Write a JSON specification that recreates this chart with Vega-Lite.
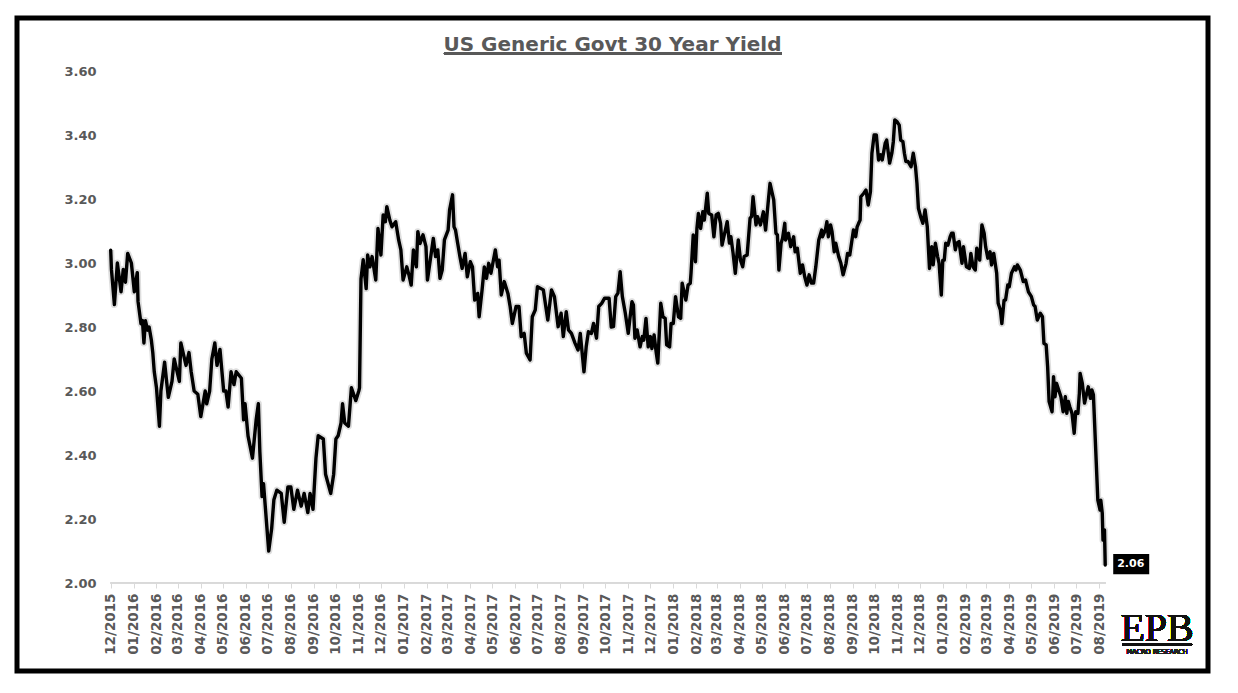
{
  "$schema": "https://vega.github.io/schema/vega-lite/v6.json",
  "width": 1191,
  "height": 653,
  "autosize": {"type": "none"},
  "padding": {"left": 17, "top": 18, "right": 30, "bottom": 22},
  "background": "#ffffff",
  "config": {
    "view": {"stroke": "#000000", "strokeWidth": 5},
    "axis": {"grid": false, "title": null}
  },
  "title": {
    "text": "US Generic Govt 30 Year Yield",
    "font": "DejaVu Sans",
    "fontSize": 20,
    "fontWeight": "bold",
    "color": "#595959",
    "anchor": "middle",
    "offset": -37
  },
  "data": {
    "values": [
      {"date": "2015-12-01", "yield": 3.04}, {"date": "2015-12-02", "yield": 2.98}, {"date": "2015-12-06", "yield": 2.87}, {"date": "2015-12-10", "yield": 3.00}, {"date": "2015-12-15", "yield": 2.91}, {"date": "2015-12-18", "yield": 2.98}, {"date": "2015-12-21", "yield": 2.94}, {"date": "2015-12-24", "yield": 3.03}, {"date": "2015-12-29", "yield": 3.00},
      {"date": "2016-01-02", "yield": 2.91}, {"date": "2016-01-06", "yield": 2.97}, {"date": "2016-01-07", "yield": 2.88}, {"date": "2016-01-11", "yield": 2.81}, {"date": "2016-01-13", "yield": 2.82}, {"date": "2016-01-15", "yield": 2.75}, {"date": "2016-01-17", "yield": 2.82}, {"date": "2016-01-20", "yield": 2.79}, {"date": "2016-01-22", "yield": 2.80}, {"date": "2016-01-25", "yield": 2.76}, {"date": "2016-01-27", "yield": 2.72}, {"date": "2016-01-29", "yield": 2.66},
      {"date": "2016-02-01", "yield": 2.61}, {"date": "2016-02-05", "yield": 2.49}, {"date": "2016-02-07", "yield": 2.60}, {"date": "2016-02-12", "yield": 2.69}, {"date": "2016-02-17", "yield": 2.58}, {"date": "2016-02-22", "yield": 2.63}, {"date": "2016-02-25", "yield": 2.70},
      {"date": "2016-03-03", "yield": 2.63}, {"date": "2016-03-05", "yield": 2.75}, {"date": "2016-03-12", "yield": 2.68}, {"date": "2016-03-16", "yield": 2.72}, {"date": "2016-03-19", "yield": 2.66}, {"date": "2016-03-23", "yield": 2.60}, {"date": "2016-03-28", "yield": 2.59},
      {"date": "2016-04-01", "yield": 2.52}, {"date": "2016-04-07", "yield": 2.60}, {"date": "2016-04-09", "yield": 2.56}, {"date": "2016-04-13", "yield": 2.60}, {"date": "2016-04-16", "yield": 2.70}, {"date": "2016-04-20", "yield": 2.75}, {"date": "2016-04-23", "yield": 2.68}, {"date": "2016-04-27", "yield": 2.73},
      {"date": "2016-05-02", "yield": 2.60}, {"date": "2016-05-05", "yield": 2.60}, {"date": "2016-05-08", "yield": 2.55}, {"date": "2016-05-12", "yield": 2.66}, {"date": "2016-05-16", "yield": 2.62}, {"date": "2016-05-19", "yield": 2.66}, {"date": "2016-05-26", "yield": 2.64}, {"date": "2016-05-29", "yield": 2.51}, {"date": "2016-05-31", "yield": 2.56},
      {"date": "2016-06-04", "yield": 2.46}, {"date": "2016-06-10", "yield": 2.39}, {"date": "2016-06-15", "yield": 2.51}, {"date": "2016-06-18", "yield": 2.56}, {"date": "2016-06-20", "yield": 2.41}, {"date": "2016-06-23", "yield": 2.27}, {"date": "2016-06-25", "yield": 2.31}, {"date": "2016-06-28", "yield": 2.22},
      {"date": "2016-07-02", "yield": 2.10}, {"date": "2016-07-06", "yield": 2.17}, {"date": "2016-07-09", "yield": 2.26}, {"date": "2016-07-13", "yield": 2.29}, {"date": "2016-07-19", "yield": 2.28}, {"date": "2016-07-23", "yield": 2.19}, {"date": "2016-07-28", "yield": 2.30},
      {"date": "2016-08-01", "yield": 2.30}, {"date": "2016-08-05", "yield": 2.23}, {"date": "2016-08-10", "yield": 2.29}, {"date": "2016-08-15", "yield": 2.24}, {"date": "2016-08-19", "yield": 2.28}, {"date": "2016-08-24", "yield": 2.22}, {"date": "2016-08-27", "yield": 2.28}, {"date": "2016-08-31", "yield": 2.23},
      {"date": "2016-09-04", "yield": 2.39}, {"date": "2016-09-07", "yield": 2.46}, {"date": "2016-09-14", "yield": 2.45}, {"date": "2016-09-17", "yield": 2.34}, {"date": "2016-09-24", "yield": 2.28}, {"date": "2016-09-28", "yield": 2.34},
      {"date": "2016-10-01", "yield": 2.45}, {"date": "2016-10-04", "yield": 2.46}, {"date": "2016-10-08", "yield": 2.50}, {"date": "2016-10-10", "yield": 2.56}, {"date": "2016-10-13", "yield": 2.50}, {"date": "2016-10-18", "yield": 2.49}, {"date": "2016-10-22", "yield": 2.61}, {"date": "2016-10-28", "yield": 2.57},
      {"date": "2016-11-01", "yield": 2.60}, {"date": "2016-11-02", "yield": 2.61}, {"date": "2016-11-04", "yield": 2.95}, {"date": "2016-11-07", "yield": 3.01}, {"date": "2016-11-11", "yield": 2.92}, {"date": "2016-11-13", "yield": 3.025}, {"date": "2016-11-16", "yield": 2.988}, {"date": "2016-11-19", "yield": 3.02}, {"date": "2016-11-24", "yield": 2.947}, {"date": "2016-11-27", "yield": 3.108},
      {"date": "2016-12-01", "yield": 3.025}, {"date": "2016-12-04", "yield": 3.15}, {"date": "2016-12-07", "yield": 3.129}, {"date": "2016-12-09", "yield": 3.176}, {"date": "2016-12-13", "yield": 3.134}, {"date": "2016-12-16", "yield": 3.113}, {"date": "2016-12-21", "yield": 3.129}, {"date": "2016-12-25", "yield": 3.072}, {"date": "2016-12-28", "yield": 3.041}, {"date": "2016-12-31", "yield": 2.947},
      {"date": "2017-01-05", "yield": 2.988}, {"date": "2017-01-08", "yield": 2.962}, {"date": "2017-01-11", "yield": 2.931}, {"date": "2017-01-14", "yield": 3.041}, {"date": "2017-01-18", "yield": 2.988}, {"date": "2017-01-20", "yield": 3.098}, {"date": "2017-01-23", "yield": 3.061}, {"date": "2017-01-27", "yield": 3.088}, {"date": "2017-01-31", "yield": 3.051},
      {"date": "2017-02-02", "yield": 2.947}, {"date": "2017-02-10", "yield": 3.077}, {"date": "2017-02-13", "yield": 3.02}, {"date": "2017-02-16", "yield": 3.041}, {"date": "2017-02-19", "yield": 2.952}, {"date": "2017-02-22", "yield": 2.978}, {"date": "2017-02-25", "yield": 3.072},
      {"date": "2017-03-02", "yield": 3.103}, {"date": "2017-03-04", "yield": 3.166}, {"date": "2017-03-08", "yield": 3.213}, {"date": "2017-03-10", "yield": 3.113}, {"date": "2017-03-12", "yield": 3.103}, {"date": "2017-03-15", "yield": 3.061}, {"date": "2017-03-18", "yield": 3.02}, {"date": "2017-03-21", "yield": 2.983}, {"date": "2017-03-25", "yield": 3.03}, {"date": "2017-03-28", "yield": 2.957},
      {"date": "2017-04-01", "yield": 3.004}, {"date": "2017-04-04", "yield": 2.988}, {"date": "2017-04-07", "yield": 2.884}, {"date": "2017-04-11", "yield": 2.905}, {"date": "2017-04-13", "yield": 2.832}, {"date": "2017-04-17", "yield": 2.916}, {"date": "2017-04-20", "yield": 2.988}, {"date": "2017-04-23", "yield": 2.952}, {"date": "2017-04-26", "yield": 2.999}, {"date": "2017-04-29", "yield": 2.968},
      {"date": "2017-05-05", "yield": 3.041}, {"date": "2017-05-08", "yield": 2.988}, {"date": "2017-05-10", "yield": 3.009}, {"date": "2017-05-13", "yield": 2.90}, {"date": "2017-05-17", "yield": 2.942}, {"date": "2017-05-22", "yield": 2.905}, {"date": "2017-05-25", "yield": 2.864}, {"date": "2017-05-28", "yield": 2.811},
      {"date": "2017-06-02", "yield": 2.864}, {"date": "2017-06-06", "yield": 2.864}, {"date": "2017-06-09", "yield": 2.77}, {"date": "2017-06-13", "yield": 2.78}, {"date": "2017-06-16", "yield": 2.718}, {"date": "2017-06-21", "yield": 2.697}, {"date": "2017-06-24", "yield": 2.832}, {"date": "2017-06-28", "yield": 2.853},
      {"date": "2017-07-01", "yield": 2.926}, {"date": "2017-07-09", "yield": 2.916}, {"date": "2017-07-15", "yield": 2.822}, {"date": "2017-07-20", "yield": 2.916}, {"date": "2017-07-24", "yield": 2.895}, {"date": "2017-07-29", "yield": 2.801},
      {"date": "2017-08-02", "yield": 2.843}, {"date": "2017-08-05", "yield": 2.77}, {"date": "2017-08-09", "yield": 2.848}, {"date": "2017-08-12", "yield": 2.791}, {"date": "2017-08-16", "yield": 2.78}, {"date": "2017-08-21", "yield": 2.749}, {"date": "2017-08-25", "yield": 2.728}, {"date": "2017-08-28", "yield": 2.78},
      {"date": "2017-09-02", "yield": 2.66}, {"date": "2017-09-05", "yield": 2.738}, {"date": "2017-09-08", "yield": 2.785}, {"date": "2017-09-12", "yield": 2.78}, {"date": "2017-09-15", "yield": 2.811}, {"date": "2017-09-19", "yield": 2.765}, {"date": "2017-09-22", "yield": 2.864}, {"date": "2017-09-26", "yield": 2.874}, {"date": "2017-09-30", "yield": 2.89},
      {"date": "2017-10-06", "yield": 2.89}, {"date": "2017-10-09", "yield": 2.80}, {"date": "2017-10-12", "yield": 2.801}, {"date": "2017-10-15", "yield": 2.895}, {"date": "2017-10-18", "yield": 2.906}, {"date": "2017-10-21", "yield": 2.973}, {"date": "2017-10-24", "yield": 2.895}, {"date": "2017-10-28", "yield": 2.843},
      {"date": "2017-11-01", "yield": 2.78}, {"date": "2017-11-03", "yield": 2.822}, {"date": "2017-11-06", "yield": 2.879}, {"date": "2017-11-08", "yield": 2.869}, {"date": "2017-11-10", "yield": 2.765}, {"date": "2017-11-13", "yield": 2.791}, {"date": "2017-11-17", "yield": 2.738}, {"date": "2017-11-20", "yield": 2.77}, {"date": "2017-11-22", "yield": 2.759}, {"date": "2017-11-25", "yield": 2.827}, {"date": "2017-11-28", "yield": 2.738},
      {"date": "2017-12-01", "yield": 2.77}, {"date": "2017-12-03", "yield": 2.733}, {"date": "2017-12-06", "yield": 2.775}, {"date": "2017-12-09", "yield": 2.718}, {"date": "2017-12-11", "yield": 2.687}, {"date": "2017-12-13", "yield": 2.78}, {"date": "2017-12-15", "yield": 2.874}, {"date": "2017-12-18", "yield": 2.832}, {"date": "2017-12-21", "yield": 2.827}, {"date": "2017-12-23", "yield": 2.744}, {"date": "2017-12-27", "yield": 2.738}, {"date": "2017-12-29", "yield": 2.811},
      {"date": "2018-01-01", "yield": 2.811}, {"date": "2018-01-04", "yield": 2.895}, {"date": "2018-01-08", "yield": 2.832}, {"date": "2018-01-11", "yield": 2.827}, {"date": "2018-01-13", "yield": 2.937}, {"date": "2018-01-18", "yield": 2.884}, {"date": "2018-01-21", "yield": 2.931}, {"date": "2018-01-24", "yield": 2.937}, {"date": "2018-01-25", "yield": 2.968}, {"date": "2018-01-28", "yield": 3.088}, {"date": "2018-01-31", "yield": 3.004},
      {"date": "2018-02-02", "yield": 3.108}, {"date": "2018-02-04", "yield": 3.155}, {"date": "2018-02-07", "yield": 3.108}, {"date": "2018-02-10", "yield": 3.16}, {"date": "2018-02-12", "yield": 3.134}, {"date": "2018-02-16", "yield": 3.218}, {"date": "2018-02-18", "yield": 3.155}, {"date": "2018-02-22", "yield": 3.15}, {"date": "2018-02-25", "yield": 3.082}, {"date": "2018-02-28", "yield": 3.15},
      {"date": "2018-03-03", "yield": 3.155}, {"date": "2018-03-06", "yield": 3.124}, {"date": "2018-03-08", "yield": 3.056}, {"date": "2018-03-15", "yield": 3.129}, {"date": "2018-03-18", "yield": 3.062}, {"date": "2018-03-20", "yield": 3.082}, {"date": "2018-03-23", "yield": 3.03}, {"date": "2018-03-26", "yield": 2.968}, {"date": "2018-03-28", "yield": 3.02}, {"date": "2018-03-30", "yield": 3.072},
      {"date": "2018-04-02", "yield": 3.009}, {"date": "2018-04-05", "yield": 2.988}, {"date": "2018-04-07", "yield": 3.02}, {"date": "2018-04-11", "yield": 3.025}, {"date": "2018-04-15", "yield": 3.14}, {"date": "2018-04-17", "yield": 3.145}, {"date": "2018-04-19", "yield": 3.207}, {"date": "2018-04-23", "yield": 3.119}, {"date": "2018-04-25", "yield": 3.145}, {"date": "2018-04-29", "yield": 3.119},
      {"date": "2018-05-03", "yield": 3.16}, {"date": "2018-05-06", "yield": 3.103}, {"date": "2018-05-10", "yield": 3.202}, {"date": "2018-05-12", "yield": 3.249}, {"date": "2018-05-17", "yield": 3.197}, {"date": "2018-05-20", "yield": 3.093}, {"date": "2018-05-22", "yield": 3.088}, {"date": "2018-05-24", "yield": 2.978}, {"date": "2018-05-27", "yield": 3.062}, {"date": "2018-05-29", "yield": 3.077},
      {"date": "2018-06-01", "yield": 3.124}, {"date": "2018-06-02", "yield": 3.072}, {"date": "2018-06-06", "yield": 3.093}, {"date": "2018-06-09", "yield": 3.051}, {"date": "2018-06-13", "yield": 3.082}, {"date": "2018-06-15", "yield": 3.035}, {"date": "2018-06-18", "yield": 3.046}, {"date": "2018-06-22", "yield": 2.968}, {"date": "2018-06-25", "yield": 2.994}, {"date": "2018-06-28", "yield": 2.957},
      {"date": "2018-07-01", "yield": 2.931}, {"date": "2018-07-04", "yield": 2.963}, {"date": "2018-07-07", "yield": 2.937}, {"date": "2018-07-10", "yield": 2.937}, {"date": "2018-07-13", "yield": 2.988}, {"date": "2018-07-17", "yield": 3.072}, {"date": "2018-07-21", "yield": 3.103}, {"date": "2018-07-22", "yield": 3.082}, {"date": "2018-07-26", "yield": 3.103}, {"date": "2018-07-28", "yield": 3.129}, {"date": "2018-07-30", "yield": 3.082},
      {"date": "2018-08-02", "yield": 3.119}, {"date": "2018-08-04", "yield": 3.098}, {"date": "2018-08-07", "yield": 3.035}, {"date": "2018-08-09", "yield": 3.062}, {"date": "2018-08-13", "yield": 3.02}, {"date": "2018-08-16", "yield": 2.999}, {"date": "2018-08-19", "yield": 2.963}, {"date": "2018-08-23", "yield": 2.999}, {"date": "2018-08-25", "yield": 3.03}, {"date": "2018-08-28", "yield": 3.025}, {"date": "2018-08-31", "yield": 3.072},
      {"date": "2018-09-02", "yield": 3.103}, {"date": "2018-09-05", "yield": 3.082}, {"date": "2018-09-07", "yield": 3.113}, {"date": "2018-09-09", "yield": 3.124}, {"date": "2018-09-11", "yield": 3.134}, {"date": "2018-09-12", "yield": 3.207}, {"date": "2018-09-16", "yield": 3.218}, {"date": "2018-09-19", "yield": 3.228}, {"date": "2018-09-22", "yield": 3.181}, {"date": "2018-09-25", "yield": 3.223}, {"date": "2018-09-27", "yield": 3.343}, {"date": "2018-09-30", "yield": 3.40},
      {"date": "2018-10-03", "yield": 3.40}, {"date": "2018-10-06", "yield": 3.322}, {"date": "2018-10-09", "yield": 3.338}, {"date": "2018-10-11", "yield": 3.322}, {"date": "2018-10-15", "yield": 3.374}, {"date": "2018-10-17", "yield": 3.384}, {"date": "2018-10-21", "yield": 3.312}, {"date": "2018-10-24", "yield": 3.343}, {"date": "2018-10-26", "yield": 3.379}, {"date": "2018-10-28", "yield": 3.447}, {"date": "2018-10-31", "yield": 3.442},
      {"date": "2018-11-03", "yield": 3.431}, {"date": "2018-11-05", "yield": 3.384}, {"date": "2018-11-08", "yield": 3.379}, {"date": "2018-11-10", "yield": 3.343}, {"date": "2018-11-12", "yield": 3.317}, {"date": "2018-11-15", "yield": 3.317}, {"date": "2018-11-19", "yield": 3.301}, {"date": "2018-11-22", "yield": 3.343}, {"date": "2018-11-25", "yield": 3.301}, {"date": "2018-11-27", "yield": 3.249}, {"date": "2018-11-29", "yield": 3.171},
      {"date": "2018-12-02", "yield": 3.145}, {"date": "2018-12-05", "yield": 3.124}, {"date": "2018-12-08", "yield": 3.166}, {"date": "2018-12-11", "yield": 3.113}, {"date": "2018-12-14", "yield": 2.983}, {"date": "2018-12-17", "yield": 3.051}, {"date": "2018-12-19", "yield": 2.994}, {"date": "2018-12-22", "yield": 3.062}, {"date": "2018-12-25", "yield": 3.02}, {"date": "2018-12-27", "yield": 2.999}, {"date": "2018-12-30", "yield": 2.90},
      {"date": "2019-01-01", "yield": 3.009}, {"date": "2019-01-03", "yield": 3.009}, {"date": "2019-01-05", "yield": 3.062}, {"date": "2019-01-08", "yield": 3.056}, {"date": "2019-01-11", "yield": 3.082}, {"date": "2019-01-13", "yield": 3.093}, {"date": "2019-01-15", "yield": 3.093}, {"date": "2019-01-18", "yield": 3.041}, {"date": "2019-01-20", "yield": 3.062}, {"date": "2019-01-23", "yield": 3.067}, {"date": "2019-01-27", "yield": 2.999}, {"date": "2019-01-29", "yield": 3.051},
      {"date": "2019-02-02", "yield": 2.988}, {"date": "2019-02-06", "yield": 2.983}, {"date": "2019-02-08", "yield": 3.03}, {"date": "2019-02-11", "yield": 2.988}, {"date": "2019-02-14", "yield": 2.978}, {"date": "2019-02-16", "yield": 3.046}, {"date": "2019-02-20", "yield": 3.009}, {"date": "2019-02-23", "yield": 3.119}, {"date": "2019-02-26", "yield": 3.093}, {"date": "2019-02-28", "yield": 3.051},
      {"date": "2019-03-03", "yield": 3.015}, {"date": "2019-03-06", "yield": 3.035}, {"date": "2019-03-08", "yield": 2.994}, {"date": "2019-03-11", "yield": 3.03}, {"date": "2019-03-15", "yield": 2.968}, {"date": "2019-03-17", "yield": 2.874}, {"date": "2019-03-20", "yield": 2.853}, {"date": "2019-03-22", "yield": 2.811}, {"date": "2019-03-25", "yield": 2.884}, {"date": "2019-03-27", "yield": 2.884}, {"date": "2019-03-30", "yield": 2.931},
      {"date": "2019-04-01", "yield": 2.926}, {"date": "2019-04-04", "yield": 2.968}, {"date": "2019-04-08", "yield": 2.988}, {"date": "2019-04-10", "yield": 2.978}, {"date": "2019-04-12", "yield": 2.994}, {"date": "2019-04-16", "yield": 2.978}, {"date": "2019-04-20", "yield": 2.942}, {"date": "2019-04-23", "yield": 2.947}, {"date": "2019-04-27", "yield": 2.91},
      {"date": "2019-05-01", "yield": 2.895}, {"date": "2019-05-04", "yield": 2.869}, {"date": "2019-05-06", "yield": 2.864}, {"date": "2019-05-09", "yield": 2.822}, {"date": "2019-05-13", "yield": 2.843}, {"date": "2019-05-16", "yield": 2.832}, {"date": "2019-05-18", "yield": 2.749}, {"date": "2019-05-21", "yield": 2.744}, {"date": "2019-05-23", "yield": 2.676}, {"date": "2019-05-25", "yield": 2.567}, {"date": "2019-05-29", "yield": 2.535}, {"date": "2019-05-31", "yield": 2.645},
      {"date": "2019-06-02", "yield": 2.582}, {"date": "2019-06-04", "yield": 2.624}, {"date": "2019-06-07", "yield": 2.603}, {"date": "2019-06-10", "yield": 2.582}, {"date": "2019-06-13", "yield": 2.535}, {"date": "2019-06-16", "yield": 2.582}, {"date": "2019-06-18", "yield": 2.53}, {"date": "2019-06-20", "yield": 2.567}, {"date": "2019-06-22", "yield": 2.551}, {"date": "2019-06-25", "yield": 2.53}, {"date": "2019-06-28", "yield": 2.468}, {"date": "2019-06-30", "yield": 2.535},
      {"date": "2019-07-03", "yield": 2.53}, {"date": "2019-07-05", "yield": 2.593}, {"date": "2019-07-06", "yield": 2.655}, {"date": "2019-07-09", "yield": 2.624}, {"date": "2019-07-12", "yield": 2.562}, {"date": "2019-07-15", "yield": 2.593}, {"date": "2019-07-17", "yield": 2.613}, {"date": "2019-07-20", "yield": 2.577}, {"date": "2019-07-22", "yield": 2.603}, {"date": "2019-07-24", "yield": 2.588}, {"date": "2019-07-30", "yield": 2.259},
      {"date": "2019-08-02", "yield": 2.228}, {"date": "2019-08-03", "yield": 2.259}, {"date": "2019-08-05", "yield": 2.218}, {"date": "2019-08-06", "yield": 2.134}, {"date": "2019-08-08", "yield": 2.166}, {"date": "2019-08-09", "yield": 2.056}
    ]
  },
  "encoding": {
    "x": {
      "field": "date",
      "type": "temporal",
      "scale": {
        "type": "utc",
        "domain": [
          {"year": 2015, "month": 7, "date": 27, "hours": 2, "utc": true},
          {"year": 2019, "month": 12, "date": 26, "hours": 5, "utc": true}
        ]
      },
      "axis": {
        "title": null,
        "values": [
          {"year": 2015, "month": 12, "date": 1, "utc": true},
          {"year": 2016, "month": 1, "date": 1, "utc": true}, {"year": 2016, "month": 2, "date": 1, "utc": true}, {"year": 2016, "month": 3, "date": 1, "utc": true}, {"year": 2016, "month": 4, "date": 1, "utc": true}, {"year": 2016, "month": 5, "date": 1, "utc": true}, {"year": 2016, "month": 6, "date": 1, "utc": true}, {"year": 2016, "month": 7, "date": 1, "utc": true}, {"year": 2016, "month": 8, "date": 1, "utc": true}, {"year": 2016, "month": 9, "date": 1, "utc": true}, {"year": 2016, "month": 10, "date": 1, "utc": true}, {"year": 2016, "month": 11, "date": 1, "utc": true}, {"year": 2016, "month": 12, "date": 1, "utc": true},
          {"year": 2017, "month": 1, "date": 1, "utc": true}, {"year": 2017, "month": 2, "date": 1, "utc": true}, {"year": 2017, "month": 3, "date": 1, "utc": true}, {"year": 2017, "month": 4, "date": 1, "utc": true}, {"year": 2017, "month": 5, "date": 1, "utc": true}, {"year": 2017, "month": 6, "date": 1, "utc": true}, {"year": 2017, "month": 7, "date": 1, "utc": true}, {"year": 2017, "month": 8, "date": 1, "utc": true}, {"year": 2017, "month": 9, "date": 1, "utc": true}, {"year": 2017, "month": 10, "date": 1, "utc": true}, {"year": 2017, "month": 11, "date": 1, "utc": true}, {"year": 2017, "month": 12, "date": 1, "utc": true},
          {"year": 2018, "month": 1, "date": 1, "utc": true}, {"year": 2018, "month": 2, "date": 1, "utc": true}, {"year": 2018, "month": 3, "date": 1, "utc": true}, {"year": 2018, "month": 4, "date": 1, "utc": true}, {"year": 2018, "month": 5, "date": 1, "utc": true}, {"year": 2018, "month": 6, "date": 1, "utc": true}, {"year": 2018, "month": 7, "date": 1, "utc": true}, {"year": 2018, "month": 8, "date": 1, "utc": true}, {"year": 2018, "month": 9, "date": 1, "utc": true}, {"year": 2018, "month": 10, "date": 1, "utc": true}, {"year": 2018, "month": 11, "date": 1, "utc": true}, {"year": 2018, "month": 12, "date": 1, "utc": true},
          {"year": 2019, "month": 1, "date": 1, "utc": true}, {"year": 2019, "month": 2, "date": 1, "utc": true}, {"year": 2019, "month": 3, "date": 1, "utc": true}, {"year": 2019, "month": 4, "date": 1, "utc": true}, {"year": 2019, "month": 5, "date": 1, "utc": true}, {"year": 2019, "month": 6, "date": 1, "utc": true}, {"year": 2019, "month": 7, "date": 1, "utc": true}, {"year": 2019, "month": 8, "date": 1, "utc": true}
        ],
        "format": "%m/%Y",
        "labelAngle": -90,
        "labelFont": "DejaVu Sans",
        "labelFontSize": 13.5,
        "labelFontWeight": "bold",
        "labelColor": "#595959",
        "labelPadding": 5,
        "labelOverlap": false,
        "labelFlush": false,
        "labelBound": false,
        "domain": false,
        "ticks": true,
        "tickSize": 5,
        "tickColor": "#d9d9d9",
        "tickWidth": 1,
        "grid": false,
        "offset": -88
      }
    },
    "y": {
      "field": "yield",
      "type": "quantitative",
      "scale": {"domain": [1.725, 3.765625], "nice": false, "zero": false},
      "axis": {
        "title": null,
        "values": [2, 2.2, 2.4, 2.6, 2.8, 3, 3.2, 3.4, 3.6],
        "format": ".2f",
        "labelFont": "DejaVu Sans",
        "labelFontSize": 13,
        "labelFontWeight": "bold",
        "labelColor": "#595959",
        "labelPadding": 14,
        "ticks": false,
        "tickSize": 0,
        "domain": false,
        "grid": false,
        "offset": -93
      }
    }
  },
  "layer": [
    {
      "mark": {"type": "rule", "color": "#d9d9d9", "strokeWidth": 1},
      "encoding": {
        "x": {"datum": {"year": 2015, "month": 12, "date": 1, "utc": true}},
        "x2": {"datum": {"year": 2019, "month": 8, "date": 9, "utc": true}},
        "y": {"datum": 2}
      }
    },
    {
      "mark": {"type": "line", "color": "#000000", "opacity": 0.13, "strokeWidth": 7, "strokeJoin": "round"}
    },
    {
      "mark": {"type": "line", "color": "#000000", "strokeWidth": 3.4, "strokeJoin": "round", "strokeCap": "round"}
    },
    {
      "transform": [{"filter": {"field": "date", "equal": {"year": 2019, "month": 8, "date": 9, "utc": true}}}],
      "mark": {"type": "point", "shape": "M0.8,-1.1H4.4V0.92H0.8Z", "size": 400, "filled": true, "color": "#000000", "opacity": 1, "strokeWidth": 0}
    },
    {
      "transform": [{"filter": {"field": "date", "equal": {"year": 2019, "month": 8, "date": 9, "utc": true}}}],
      "mark": {"type": "text", "align": "left", "baseline": "middle", "dx": 12, "dy": -1.5, "font": "DejaVu Sans", "fontSize": 11, "fontWeight": "bold", "color": "#ffffff"},
      "encoding": {"text": {"field": "yield", "type": "quantitative", "format": ".2f"}}
    },
    {
      "mark": {"type": "rule", "color": "#595959", "strokeWidth": 1.5},
      "encoding": {
        "x": {"datum": {"year": 2017, "month": 2, "date": 24, "hours": 10, "utc": true}},
        "x2": {"datum": {"year": 2018, "month": 5, "date": 27, "hours": 22, "utc": true}},
        "y": {"datum": 3.655}
      }
    },
    {
      "mark": {"type": "text", "text": "EPB", "font": "Liberation Serif", "fontSize": 40, "align": "center", "baseline": "alphabetic", "color": "#111111"},
      "encoding": {
        "x": {"datum": {"year": 2019, "month": 10, "date": 18, "hours": 5, "utc": true}},
        "y": {"datum": 1.8188}
      }
    },
    {
      "mark": {"type": "rule", "color": "#111111", "strokeWidth": 1.3},
      "encoding": {
        "x": {"datum": {"year": 2019, "month": 8, "date": 31, "hours": 19, "utc": true}},
        "x2": {"datum": {"year": 2019, "month": 12, "date": 4, "hours": 14, "utc": true}},
        "y": {"datum": 1.8078}
      }
    },
    {
      "mark": {"type": "text", "text": "MACRO RESEARCH", "font": "DejaVu Sans", "fontSize": 6.5, "align": "center", "baseline": "alphabetic", "color": "#222222"},
      "encoding": {
        "x": {"datum": {"year": 2019, "month": 10, "date": 18, "hours": 5, "utc": true}},
        "y": {"datum": 1.7766}
      }
    }
  ]
}
